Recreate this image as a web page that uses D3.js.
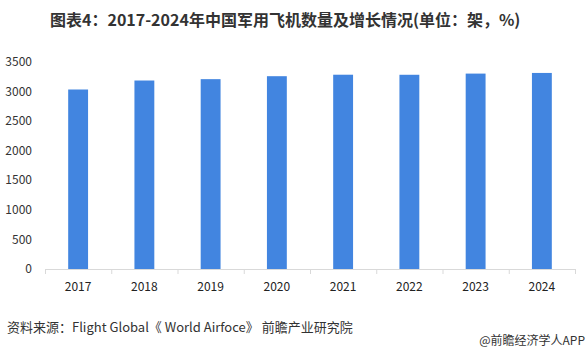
<!DOCTYPE html>
<html>
<head>
<meta charset="utf-8">
<script src="https://cdn.jsdelivr.net/npm/d3@7"></script>
<style>
  body { margin: 0; background: #fff; }
  svg { display: block; font-family: "Noto Sans CJK SC", "Noto Sans", sans-serif; }
</style>
</head>
<body>
<svg width="586" height="360"></svg>
<script>
var years = ['2017', '2018', '2019', '2020', '2021', '2022', '2023', '2024'];
var counts = [3035, 3187, 3210, 3260, 3285, 3284, 3304, 3315];
var yTicks = [0, 500, 1000, 1500, 2000, 2500, 3000, 3500];

var svg = d3.select('svg');
var width = +svg.attr('width');

// plot area (avoid "top" - it clashes with window.top)
var plotLeft = 45, plotRight = 575, plotTop = 62, plotBottom = 269;

var x = d3.scaleBand().domain(years).range([plotLeft, plotRight]).paddingInner(0.7).paddingOuter(0.35);
var y = d3.scaleLinear().domain([0, 3500]).range([plotBottom, plotTop]);

// title
svg.append('text')
    .attr('x', 50).attr('y', 26)
    .attr('font-size', 16).attr('font-weight', 'bold').attr('fill', '#333')
    .text('图表4：2017-2024年中国军用飞机数量及增长情况(单位：架，%)');

// bars
svg.selectAll('.bar').data(years).enter().append('rect')
    .attr('class', 'bar')
    .attr('x', d => x(d))
    .attr('width', x.bandwidth())
    .attr('y', (d, i) => y(counts[i]))
    .attr('height', (d, i) => plotBottom - y(counts[i]))
    .attr('fill', '#4285e0');

// y axis labels (no line)
svg.selectAll('.ylab').data(yTicks).enter().append('text')
    .attr('class', 'ylab')
    .attr('x', 32).attr('y', d => y(d))
    .attr('dy', '0.35em').attr('text-anchor', 'end')
    .attr('font-size', 12).attr('fill', '#333')
    .text(d => d);

// x axis
var xAxis = d3.axisBottom(d3.scaleLinear().domain([0, years.length]).range([plotLeft, plotRight]))
    .ticks(years.length).tickSize(5).tickFormat('');
var gx = svg.append('g').attr('transform', 'translate(0,' + plotBottom + ')').call(xAxis);
gx.select('.domain').attr('stroke', '#d9d9d9');
gx.selectAll('.tick line').attr('stroke', '#d9d9d9');

svg.selectAll('.xlab').data(years).enter().append('text')
    .attr('class', 'xlab')
    .attr('x', d => x(d) + x.bandwidth() / 2).attr('y', 291)
    .attr('text-anchor', 'middle')
    .attr('font-size', 12).attr('fill', '#222')
    .text(d => d);

// footer
svg.append('text')
    .attr('x', 7).attr('y', 332)
    .attr('font-size', 13).attr('fill', '#333')
    .text('资料来源：Flight Global《 World Airfoce》 前瞻产业研究院');

svg.append('text')
    .attr('x', width - 1).attr('y', 345)
    .attr('text-anchor', 'end')
    .attr('font-size', 12).attr('fill', '#333')
    .text('@前瞻经济学人APP');
</script>
</body>
</html>
